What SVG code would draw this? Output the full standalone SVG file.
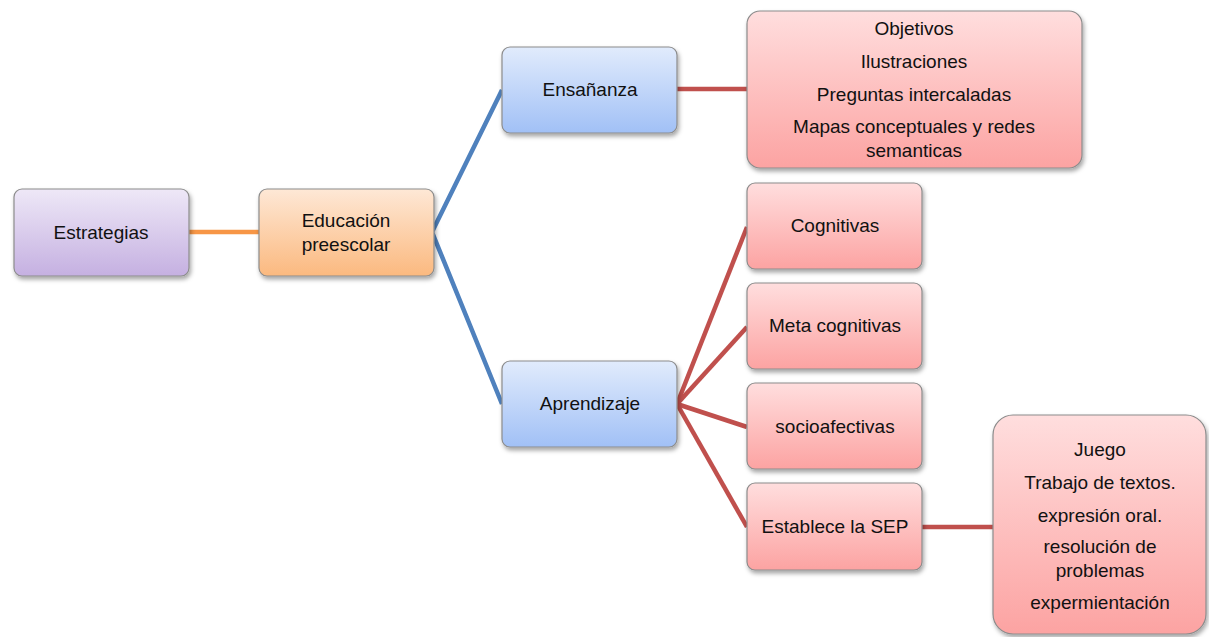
<svg xmlns="http://www.w3.org/2000/svg" width="1209" height="637" viewBox="0 0 1209 637">
<defs>
<linearGradient id="gPurple" x1="0" y1="0" x2="0" y2="1"><stop offset="0" stop-color="#eee8f7"/><stop offset="1" stop-color="#c5b0e1"/></linearGradient>
<linearGradient id="gOrange" x1="0" y1="0" x2="0" y2="1"><stop offset="0" stop-color="#fee8d6"/><stop offset="1" stop-color="#fbb97f"/></linearGradient>
<linearGradient id="gBlue" x1="0" y1="0" x2="0" y2="1"><stop offset="0" stop-color="#e1ebfc"/><stop offset="1" stop-color="#a1c0f6"/></linearGradient>
<linearGradient id="gPink" x1="0" y1="0" x2="0" y2="1"><stop offset="0" stop-color="#ffdede"/><stop offset="1" stop-color="#fca3a2"/></linearGradient>
<filter id="sh" x="-10%" y="-10%" width="125%" height="130%"><feDropShadow dx="1.5" dy="3" stdDeviation="2" flood-color="#000" flood-opacity="0.35"/></filter>
</defs>
<style>
.box{stroke:#8c8c8c;stroke-width:1.2;filter:url(#sh)}
.t{font-family:"Liberation Sans",Arial,sans-serif;font-size:19px;fill:#111;text-anchor:middle}
.c{fill:none;stroke-width:4.5;stroke-linecap:butt}
.co{stroke:#f79646}
.cb{stroke:#4f81bd}
.cr{stroke:#c0504d}
</style>
<g id="connectors">
<line class="c co" x1="188" y1="232" x2="259" y2="232"/>
<polyline class="c cb" points="502,90 432,232 502,404"/>
<line class="c cr" x1="677" y1="89" x2="747" y2="89"/>
<line class="c cr" x1="677" y1="404" x2="747" y2="227"/>
<line class="c cr" x1="677" y1="404" x2="747" y2="327"/>
<line class="c cr" x1="677" y1="404" x2="747" y2="427"/>
<line class="c cr" x1="677" y1="404" x2="747" y2="527"/>
<line class="c cr" x1="922" y1="527" x2="993" y2="527"/>
</g>
<g id="estrategias">
<rect class="box" x="14" y="189" width="175" height="87" rx="8" fill="url(#gPurple)"/>
<text class="t" x="101" y="239">Estrategias</text>
</g>
<g id="educacion">
<rect class="box" x="259" y="189" width="175" height="87" rx="8" fill="url(#gOrange)"/>
<text class="t" x="346" y="227">Educación</text>
<text class="t" x="346" y="251">preescolar</text>
</g>
<g id="ensenanza">
<rect class="box" x="502" y="47" width="175" height="86" rx="8" fill="url(#gBlue)"/>
<text class="t" x="590" y="96">Ensañanza</text>
</g>
<g id="aprendizaje">
<rect class="box" x="502" y="361" width="175" height="86" rx="8" fill="url(#gBlue)"/>
<text class="t" x="590" y="410">Aprendizaje</text>
</g>
<g id="ensenanza-list">
<rect class="box" x="747" y="11" width="335" height="157" rx="13" fill="url(#gPink)"/>
<text class="t" x="914" y="35">Objetivos</text>
<text class="t" x="914" y="68">Ilustraciones</text>
<text class="t" x="914" y="101">Preguntas intercaladas</text>
<text class="t" x="914" y="133">Mapas conceptuales y redes</text>
<text class="t" x="914" y="157">semanticas</text>
</g>
<g id="cognitivas">
<rect class="box" x="747" y="183" width="175" height="86" rx="8" fill="url(#gPink)"/>
<text class="t" x="835" y="232">Cognitivas</text>
</g>
<g id="metacognitivas">
<rect class="box" x="747" y="283" width="175" height="86" rx="8" fill="url(#gPink)"/>
<text class="t" x="835" y="332">Meta cognitivas</text>
</g>
<g id="socioafectivas">
<rect class="box" x="747" y="383" width="175" height="86" rx="8" fill="url(#gPink)"/>
<text class="t" x="835" y="433">socioafectivas</text>
</g>
<g id="establece">
<rect class="box" x="747" y="483" width="175" height="87" rx="8" fill="url(#gPink)"/>
<text class="t" x="835" y="533">Establece la SEP</text>
</g>
<g id="sep-list">
<rect class="box" x="993" y="415" width="213" height="219" rx="20" fill="url(#gPink)"/>
<text class="t" x="1100" y="456">Juego</text>
<text class="t" x="1100" y="489">Trabajo de textos.</text>
<text class="t" x="1100" y="522">expresión oral.</text>
<text class="t" x="1100" y="553">resolución de</text>
<text class="t" x="1100" y="577">problemas</text>
<text class="t" x="1100" y="609">expermientación</text>
</g>
</svg>
